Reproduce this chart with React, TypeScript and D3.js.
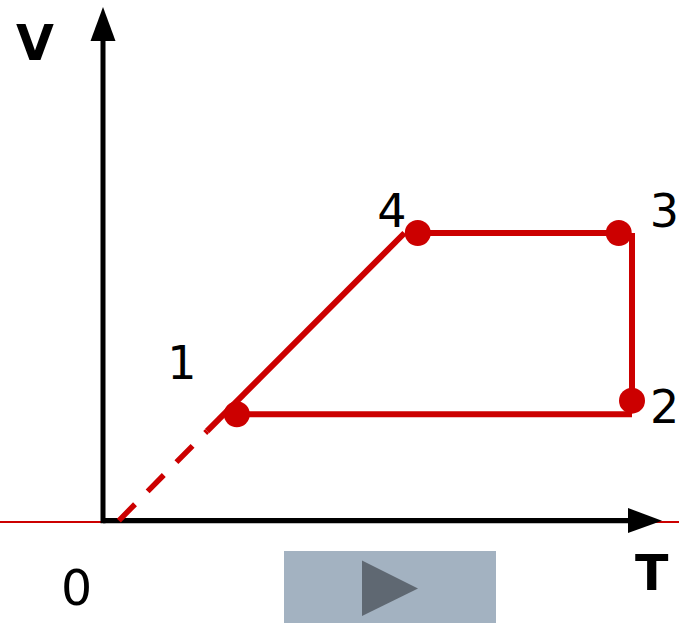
import React from 'react';
import { scaleLinear, line } from 'd3';

// state points, T and V in percent of the axis span
const stateLabels = ['1', '2', '3', '4'];
const stateT = [25.3, 100, 97.5, 59.5];
const stateV = [37, 41.7, 100, 100];

// drawn process lines, they stop a little off the dots
const solidT = [57, 19.66];
const solidV = [100, 31.1];
const dashedT = [3, 19.66];
const dashedV = [0, 31.1];
const topT = [59.5, 97.5];
const topV = [100, 100];
const rightT = [100, 100];
const rightV = [100, 41.7];
const bottomT = [25.3, 100];
const bottomV = [37, 37];

const labelOffsets = [
  [-69.5, -35],
  [18, 22],
  [31, -6],
  [-40.5, -6.5],
];

const RED = '#cc0000';
const FONT = '"DejaVu Sans", Verdana, sans-serif';

export default function App() {
  const width = 679;
  const height = 623;
  const x0 = 103;
  const y0 = 520.6;

  const x = scaleLinear().domain([0, 100]).range([x0, 632]);
  const y = scaleLinear().domain([0, 100]).range([y0, 233]);
  const path = line<[number, number]>()
    .x((d) => x(d[0]))
    .y((d) => y(d[1]));
  const pts = (ts: number[], vs: number[]) => ts.map((t, i) => [t, vs[i]] as [number, number]);

  return (
    <svg
      width={width}
      height={height}
      viewBox={`0 0 ${width} ${height}`}
      style={{ position: 'absolute', left: 0, top: 0, background: '#fff' }}
    >
      {/* thin red base line behind the T axis */}
      <line x1={0} x2={width} y1={522} y2={522} stroke={RED} strokeWidth={2} />

      {/* axes */}
      <line x1={x0} x2={x0} y1={y0 + 2.6} y2={40} stroke="#000" strokeWidth={5} />
      <line x1={x0} x2={630} y1={y0} y2={y0} stroke="#000" strokeWidth={5.3} />
      <path d="M103,7 L115.5,41 L90.5,41 Z" fill="#000" />
      <path d="M662,520.8 L628,533 L628,508 Z" fill="#000" />

      {/* process lines */}
      <path d={path(pts(solidT, solidV)) ?? ''} fill="none" stroke={RED} strokeWidth={6} />
      <path
        d={path(pts(dashedT, dashedV)) ?? ''}
        fill="none"
        stroke={RED}
        strokeWidth={5.5}
        strokeDasharray="23 18"
      />
      <path d={path(pts(topT, topV)) ?? ''} fill="none" stroke={RED} strokeWidth={6} />
      <path d={path(pts(rightT, rightV)) ?? ''} fill="none" stroke={RED} strokeWidth={6} />
      <path d={path(pts(bottomT, bottomV)) ?? ''} fill="none" stroke={RED} strokeWidth={6} />

      {stateLabels.map((s, i) => (
        <g key={s}>
          <circle cx={x(stateT[i])} cy={y(stateV[i])} r={13} fill={RED} />
          <text
            x={x(stateT[i]) + labelOffsets[i][0]}
            y={y(stateV[i]) + labelOffsets[i][1]}
            fontFamily={FONT}
            fontSize={46}
            fill="#000"
          >
            {s}
          </text>
        </g>
      ))}

      <text x={61} y={605} fontFamily={FONT} fontSize={49} fill="#000">
        0
      </text>
      <text x={16} y={60} fontFamily={FONT} fontSize={49} fontWeight="bold" fill="#000">
        V
      </text>
      <text x={635} y={590} fontFamily={FONT} fontSize={49} fontWeight="bold" fill="#000">
        T
      </text>

      {/* play button */}
      <rect x={284} y={551} width={212} height={72} fill="#a3b2c1" />
      <path d="M362,560.5 L418,588.5 L362,616 Z" fill="#5f6872" />
    </svg>
  );
}
